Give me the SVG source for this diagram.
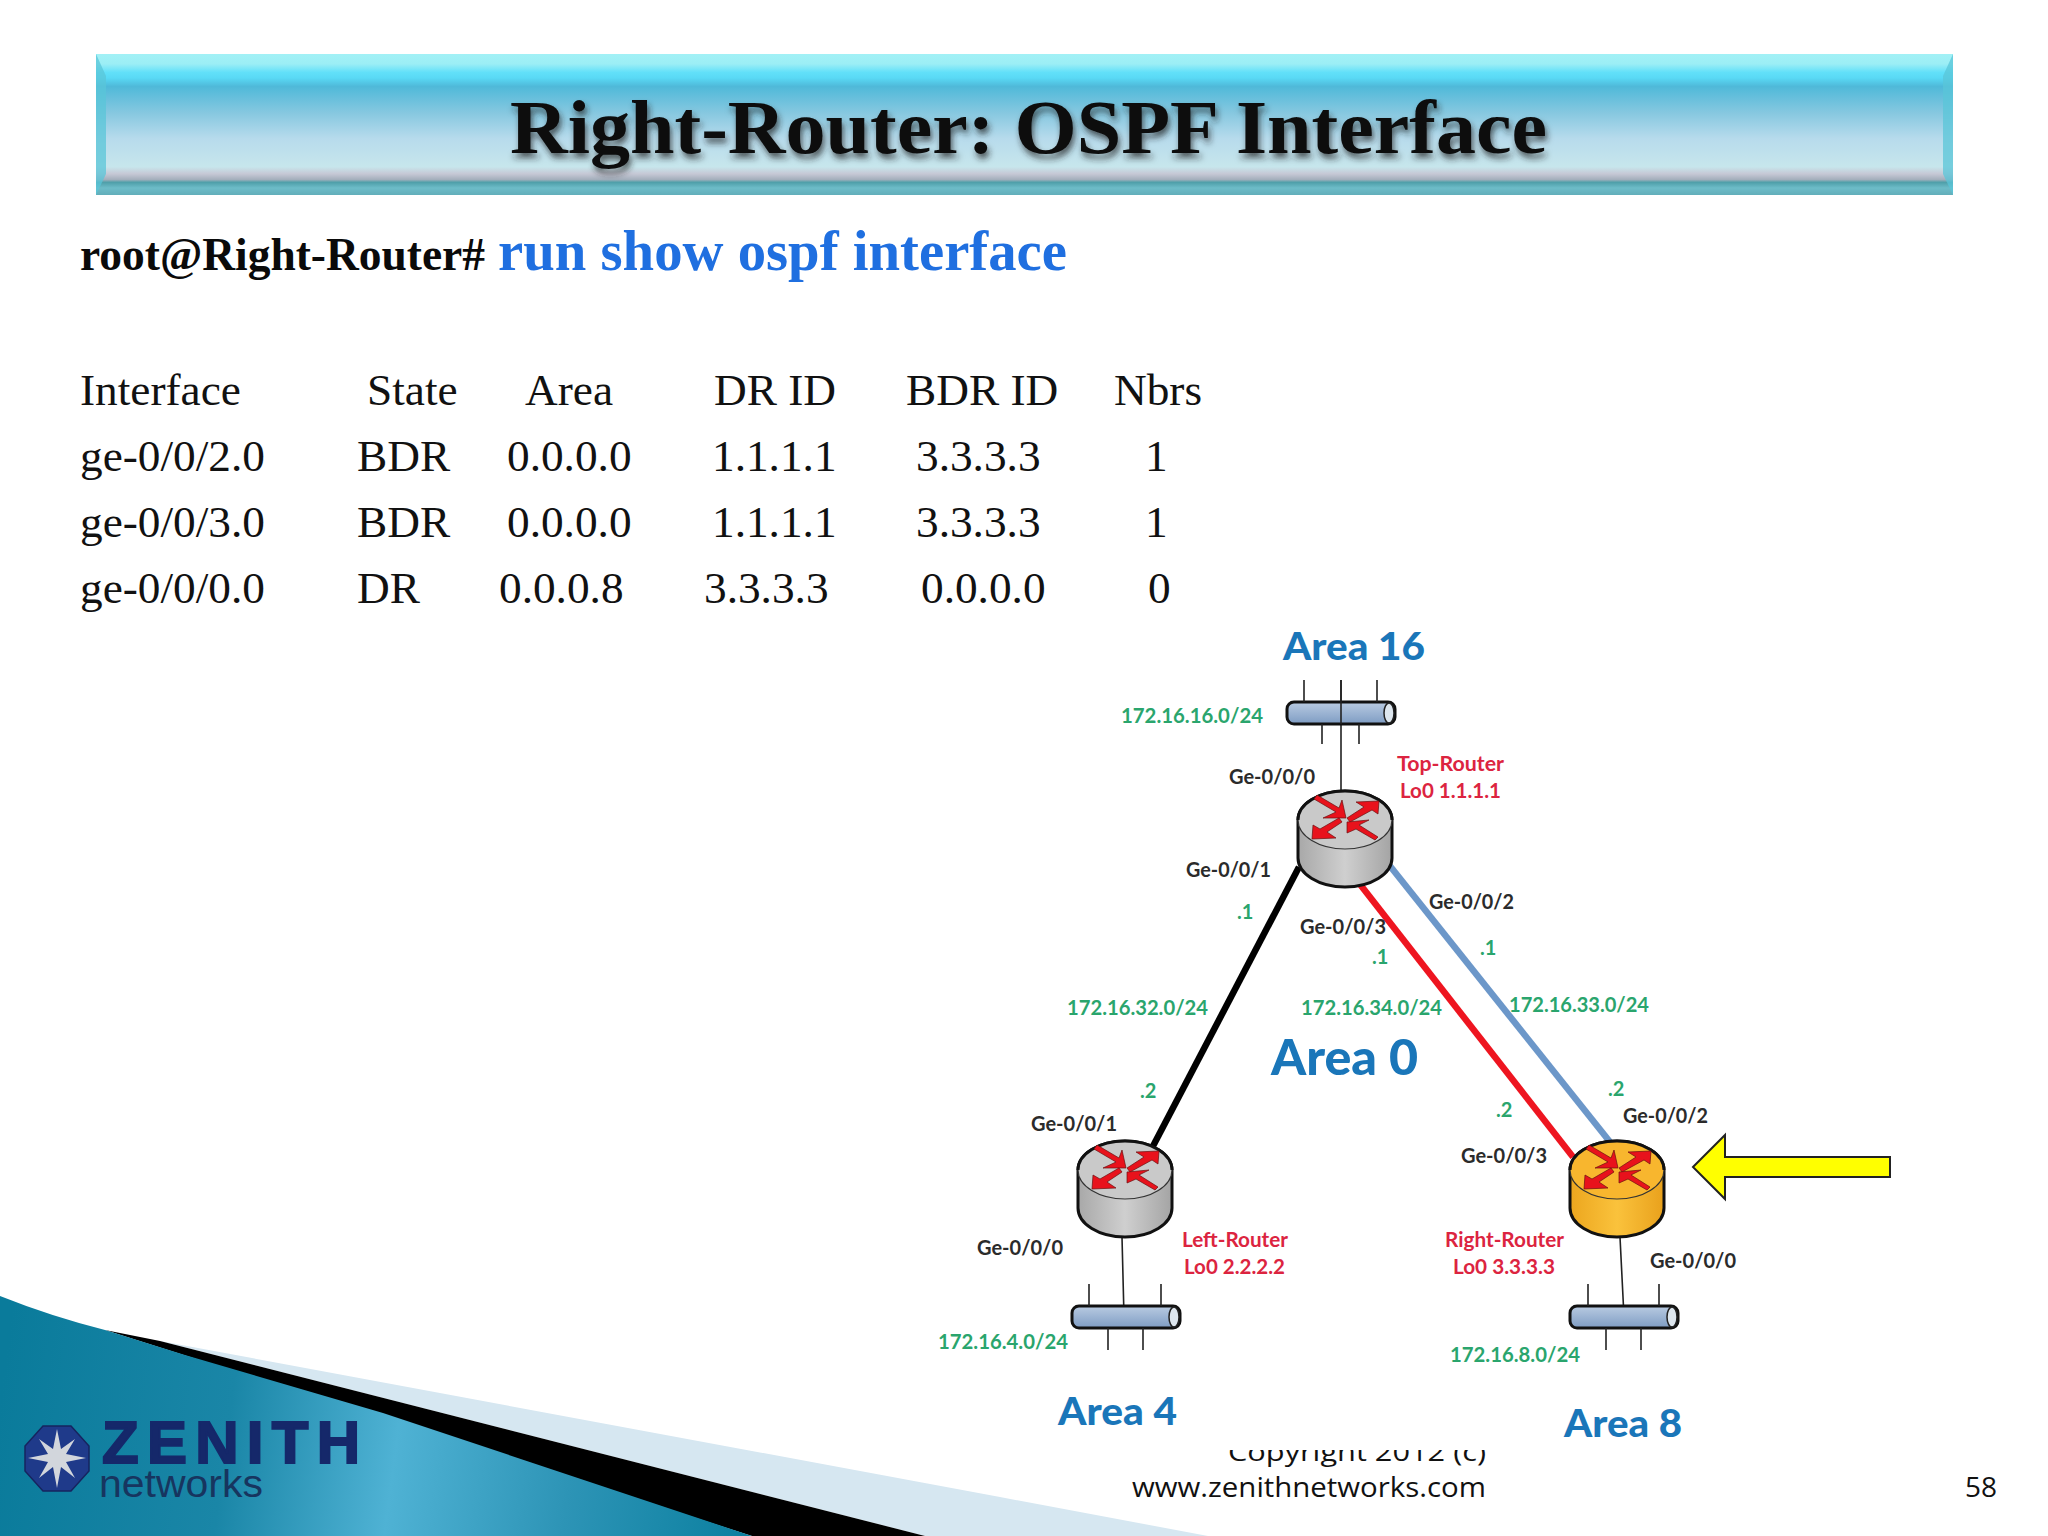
<svg xmlns="http://www.w3.org/2000/svg" width="2048" height="1536" viewBox="0 0 2048 1536">
<style>
.serif{font-family:"Liberation Serif","Times New Roman",serif}
.t{font-size:45.3px;fill:#111}
.lb{font-family:Lato,"Open Sans",sans-serif;font-weight:700;font-size:20px}
.ge{fill:#2b2b2b}
.ip{fill:#2aa56d}
.rt{fill:#dc2440}
.area{font-family:Lato,"Open Sans",sans-serif;font-weight:900;fill:#1a76b9}
.foot{font-family:"Open Sans","DejaVu Sans",sans-serif;font-size:27px;fill:#111}
.thin{stroke:#222;stroke-width:1.6;fill:none}
.link{fill:none;stroke-width:6.5}
.body{stroke:#111;stroke-width:3}
.cap{stroke:#333;stroke-width:1.2}
.grey{fill:url(#greyB)}
.greyc{fill:#c9c9c9}
.gold{fill:url(#goldB)}
.goldc{fill:#f8b62e}
</style>
<defs>
<linearGradient id="bar" x1="0" y1="54" x2="0" y2="195" gradientUnits="userSpaceOnUse">
<stop offset="0" stop-color="#a2f1f6"/><stop offset="0.07" stop-color="#9ceef5"/><stop offset="0.13" stop-color="#62e0f9"/><stop offset="0.17" stop-color="#59d9f5"/><stop offset="0.23" stop-color="#4fb9d9"/><stop offset="0.42" stop-color="#87c8e0"/><stop offset="0.6" stop-color="#b7dbec"/><stop offset="0.8" stop-color="#c7e6ec"/><stop offset="0.85" stop-color="#c6c8d5"/><stop offset="0.89" stop-color="#a4afbc"/><stop offset="0.91" stop-color="#4f9fa9"/><stop offset="0.95" stop-color="#6dbcc8"/><stop offset="1" stop-color="#62aeba"/>
</linearGradient>
<linearGradient id="teal" x1="0" y1="1400" x2="760" y2="1500" gradientUnits="userSpaceOnUse">
<stop offset="0" stop-color="#0a7b9b"/><stop offset="0.3" stop-color="#1a86a7"/><stop offset="0.52" stop-color="#4fb2d4"/><stop offset="0.75" stop-color="#2d94b6"/><stop offset="1" stop-color="#0a7f9f"/>
</linearGradient>
<linearGradient id="greyB" x1="0" y1="0" x2="1" y2="0"><stop offset="0" stop-color="#a8a8a8"/><stop offset="0.5" stop-color="#cfcfcf"/><stop offset="1" stop-color="#a4a4a4"/></linearGradient>
<linearGradient id="goldB" x1="0" y1="0" x2="1" y2="0"><stop offset="0" stop-color="#eca61e"/><stop offset="0.5" stop-color="#fac23c"/><stop offset="1" stop-color="#e9a11c"/></linearGradient>
<linearGradient id="pipe" x1="0" y1="0" x2="0" y2="1"><stop offset="0" stop-color="#b9cbe2"/><stop offset="1" stop-color="#7e9cc3"/></linearGradient>
<filter id="shadow" x="-5%" y="-20%" width="110%" height="150%"><feDropShadow dx="2" dy="5" stdDeviation="3" flood-color="#222" flood-opacity="0.7"/></filter>
<clipPath id="footClip"><rect x="1200" y="1450" width="300" height="30"/></clipPath>
<g id="arrows" fill="#e8121c" stroke="#6a1010" stroke-width="0.7">
<path d="M-31,-21 L-28,-25 L-6,-12 L-3,-20 L1,-2 L-22,-2 L-9,-8 Z"/>
<path d="M2,-2 L19,-13 L11,-18 L34,-19 L33,-6 L27,-10 L5,2 Z"/>
<path d="M-3,2 L-18,12 L-9,18 L-33,19 L-32,5 L-25,9 L-6,-2 Z"/>
<path d="M33,17 L30,20 L11,9 L2,13 L2,2 L24,0 L14,5 Z"/>
</g>
<g id="pipeShape">
<rect x="0" y="0" width="108" height="22" rx="7" fill="url(#pipe)" stroke="#111" stroke-width="3"/>
<ellipse cx="102" cy="11" rx="5" ry="10" fill="#dde6ee" stroke="#222" stroke-width="1.5"/>
</g>
</defs>

<rect width="2048" height="1536" fill="#fff"/>

<g id="footer-art">
<path d="M160,1341 L1000,1497 L1208,1536 L925,1536 Z" fill="#d6e7f1"/>
<path d="M105,1330 L160,1341 L925,1536 L752,1536 Z" fill="#000"/>
<path d="M0,1296 Q50,1316 105,1330 L185,1355 L383,1413 L752,1536 L0,1536 Z" fill="url(#teal)"/>
</g>

<g id="title-bar">
<rect x="96" y="54" width="1857" height="141" fill="url(#bar)"/>
<path d="M96,54 L106,76 L106,174 L96,195 Z" fill="#5ac6d8" opacity="0.75"/>
<path d="M1953,54 L1943,76 L1943,174 L1953,195 Z" fill="#5ac6d8" opacity="0.75"/>
<text class="serif" x="510" y="153" font-size="77" font-weight="700" fill="#0a0a0a" textLength="1037" lengthAdjust="spacingAndGlyphs" filter="url(#shadow)">Right-Router: OSPF Interface</text>
</g>

<g id="command">
<text class="serif" x="80" y="270" font-size="46" font-weight="700" fill="#0a0a0a" textLength="405" lengthAdjust="spacingAndGlyphs">root@Right-Router#</text>
<text class="serif" x="498" y="270" font-size="57" font-weight="700" fill="#1f6fe0" textLength="569" lengthAdjust="spacingAndGlyphs">run show ospf interface</text>
</g>

<g id="table" class="serif t">
<text x="80" y="405">Interface</text><text x="367" y="405">State</text><text x="525" y="405">Area</text><text x="714" y="405">DR ID</text><text x="906" y="405">BDR ID</text><text x="1114" y="405">Nbrs</text>
<text x="80" y="471">ge-0/0/2.0</text><text x="357" y="471">BDR</text><text x="507" y="471">0.0.0.0</text><text x="712" y="471">1.1.1.1</text><text x="916" y="471">3.3.3.3</text><text x="1145" y="471">1</text>
<text x="80" y="537">ge-0/0/3.0</text><text x="357" y="537">BDR</text><text x="507" y="537">0.0.0.0</text><text x="712" y="537">1.1.1.1</text><text x="916" y="537">3.3.3.3</text><text x="1145" y="537">1</text>
<text x="80" y="603">ge-0/0/0.0</text><text x="357" y="603">DR</text><text x="499" y="603">0.0.0.8</text><text x="704" y="603">3.3.3.3</text><text x="921" y="603">0.0.0.0</text><text x="1148" y="603">0</text>
</g>

<g id="connectors">
<path class="link" stroke="#000" d="M1299,867 L1152,1148"/>
<path class="link" stroke="#ee1520" d="M1359,883 L1573,1157"/>
<path class="link" stroke="#6c97c9" d="M1390,866 L1610,1142"/>
<path class="thin" d="M1341,680 V790 M1122,1237 L1124,1317 M1620,1237 L1624,1317"/>
</g>

<g id="subnet-top">
<use href="#pipeShape" x="1287" y="702"/>
<path class="thin" d="M1304,680 V702 M1341,680 V724 M1377,680 V702 M1322,724 V744 M1359,724 V744"/>
</g>
<g id="subnet-left">
<use href="#pipeShape" x="1072" y="1306"/>
<path class="thin" d="M1089,1284 V1306 M1161,1284 V1306 M1108,1328 V1350 M1143,1328 V1350"/>
</g>
<g id="subnet-right">
<use href="#pipeShape" x="1570" y="1306"/>
<path class="thin" d="M1588,1284 V1306 M1659,1284 V1306 M1606,1328 V1350 M1641,1328 V1350"/>
</g>

<g id="router-top" transform="translate(1345,791)">
<path class="body grey" d="M-47,29 V67 A47,29 0 0 0 47,67 V29 A47,29 0 0 0 -47,29 Z"/>
<ellipse class="cap greyc" cx="0" cy="29" rx="47" ry="29"/>
<path class="body" fill="none" d="M-47,29 A47,29 0 0 1 47,29"/>
<use href="#arrows" x="0" y="29"/>
</g>
<g id="router-left" transform="translate(1125,1141)">
<path class="body grey" d="M-47,29 V67 A47,29 0 0 0 47,67 V29 A47,29 0 0 0 -47,29 Z"/>
<ellipse class="cap greyc" cx="0" cy="29" rx="47" ry="29"/>
<path class="body" fill="none" d="M-47,29 A47,29 0 0 1 47,29"/>
<use href="#arrows" x="0" y="29"/>
</g>
<g id="router-right" transform="translate(1617,1141)">
<path class="body gold" d="M-47,29 V67 A47,29 0 0 0 47,67 V29 A47,29 0 0 0 -47,29 Z"/>
<ellipse class="cap goldc" cx="0" cy="29" rx="47" ry="29"/>
<path class="body" fill="none" d="M-47,29 A47,29 0 0 1 47,29"/>
<use href="#arrows" x="0" y="29"/>
</g>

<path id="pointer" d="M1693,1167 L1725,1135 V1157 H1890 V1177 H1725 V1199 Z" fill="#ffff00" stroke="#222" stroke-width="2"/>

<g id="labels" class="lb">
<text class="area" x="1283" y="660" font-size="38" textLength="142" lengthAdjust="spacingAndGlyphs">Area 16</text>
<text class="area" x="1271" y="1075" font-size="50" textLength="147" lengthAdjust="spacingAndGlyphs">Area 0</text>
<text class="area" x="1058" y="1425" font-size="38" textLength="119" lengthAdjust="spacingAndGlyphs">Area 4</text>
<text class="area" x="1564" y="1437" font-size="38" textLength="118" lengthAdjust="spacingAndGlyphs">Area 8</text>

<text class="ip" x="1121" y="723" textLength="142" lengthAdjust="spacingAndGlyphs">172.16.16.0/24</text>
<text class="ip" x="1067" y="1015" textLength="141" lengthAdjust="spacingAndGlyphs">172.16.32.0/24</text>
<text class="ip" x="1301" y="1015" textLength="141" lengthAdjust="spacingAndGlyphs">172.16.34.0/24</text>
<text class="ip" x="1509" y="1012" textLength="140" lengthAdjust="spacingAndGlyphs">172.16.33.0/24</text>
<text class="ip" x="938" y="1349" textLength="130" lengthAdjust="spacingAndGlyphs">172.16.4.0/24</text>
<text class="ip" x="1450" y="1362" textLength="130" lengthAdjust="spacingAndGlyphs">172.16.8.0/24</text>
<text class="ip" x="1237" y="919">.1</text>
<text class="ip" x="1372" y="964">.1</text>
<text class="ip" x="1480" y="955">.1</text>
<text class="ip" x="1140" y="1098">.2</text>
<text class="ip" x="1496" y="1117">.2</text>
<text class="ip" x="1608" y="1096">.2</text>

<text class="ge" x="1229" y="784" textLength="86" lengthAdjust="spacingAndGlyphs">Ge-0/0/0</text>
<text class="ge" x="1186" y="877" textLength="85" lengthAdjust="spacingAndGlyphs">Ge-0/0/1</text>
<text class="ge" x="1300" y="934" textLength="86" lengthAdjust="spacingAndGlyphs">Ge-0/0/3</text>
<text class="ge" x="1429" y="909" textLength="85" lengthAdjust="spacingAndGlyphs">Ge-0/0/2</text>
<text class="ge" x="1031" y="1131" textLength="86" lengthAdjust="spacingAndGlyphs">Ge-0/0/1</text>
<text class="ge" x="977" y="1255" textLength="86" lengthAdjust="spacingAndGlyphs">Ge-0/0/0</text>
<text class="ge" x="1623" y="1123" textLength="85" lengthAdjust="spacingAndGlyphs">Ge-0/0/2</text>
<text class="ge" x="1461" y="1163" textLength="86" lengthAdjust="spacingAndGlyphs">Ge-0/0/3</text>
<text class="ge" x="1650" y="1268" textLength="86" lengthAdjust="spacingAndGlyphs">Ge-0/0/0</text>

<text class="rt" x="1397" y="771" textLength="107" lengthAdjust="spacingAndGlyphs">Top-Router</text>
<text class="rt" x="1400" y="798" textLength="101" lengthAdjust="spacingAndGlyphs">Lo0 1.1.1.1</text>
<text class="rt" x="1182" y="1247" textLength="106" lengthAdjust="spacingAndGlyphs">Left-Router</text>
<text class="rt" x="1184" y="1274" textLength="101" lengthAdjust="spacingAndGlyphs">Lo0 2.2.2.2</text>
<text class="rt" x="1445" y="1247" textLength="119" lengthAdjust="spacingAndGlyphs">Right-Router</text>
<text class="rt" x="1453" y="1274" textLength="102" lengthAdjust="spacingAndGlyphs">Lo0 3.3.3.3</text>
</g>

<g id="logo">
<path d="M43,1426 L71,1426 L89,1446 L89,1471 L71,1491 L43,1491 L25,1471 L25,1446 Z" fill="#1f3a8a" stroke="#16245f" stroke-width="1.5"/>
<path d="M57,1429 L61,1449 L75,1439 L66,1454 L86,1458 L66,1462 L75,1478 L61,1467 L57,1488 L53,1467 L39,1478 L48,1462 L28,1458 L48,1454 L39,1439 L53,1449 Z" fill="#d2d6dc"/>
<text x="102" y="1463" font-family="'Liberation Sans',Arial,sans-serif" font-weight="700" font-size="60" fill="#15286a" stroke="#15286a" stroke-width="2" textLength="258" lengthAdjust="spacing">ZENITH</text>
<text x="99" y="1497" font-family="'Liberation Sans',Arial,sans-serif" font-size="38" fill="#17355f" textLength="164" lengthAdjust="spacingAndGlyphs">networks</text>
</g>

<g id="footer" class="foot">
<text x="1228" y="1461" clip-path="url(#footClip)" textLength="258" lengthAdjust="spacingAndGlyphs" style="font-size:26px">Copyright 2012 (c)</text>
<text x="1132" y="1497" textLength="354" lengthAdjust="spacingAndGlyphs">www.zenithnetworks.com</text>
<text x="1965" y="1497" textLength="32" lengthAdjust="spacingAndGlyphs">58</text>
</g>
</svg>
